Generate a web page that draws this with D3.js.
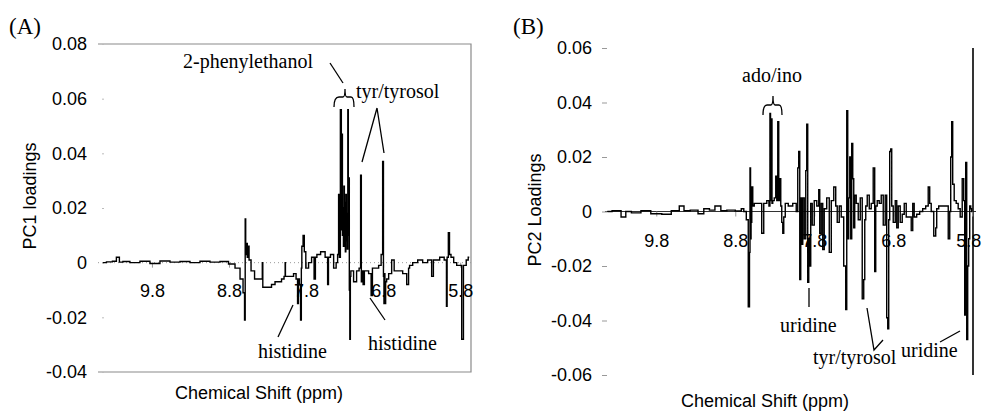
<!DOCTYPE html>
<html>
<head>
<meta charset="utf-8">
<script src="https://cdn.jsdelivr.net/npm/d3@7"></script>
<style>
  body { margin: 0; background: #fff; }
  svg { display: block; }
  .tick text { font-family: "Liberation Sans", Arial, sans-serif; font-size: 18px; fill: #000; }
  .title { font-family: "Liberation Sans", Arial, sans-serif; font-size: 18px; }
  .note { font-family: "Liberation Serif", "Times New Roman", serif; font-size: 20px; }
  .panel { font-family: "Liberation Serif", "Times New Roman", serif; font-size: 23px; }
</style>
</head>
<body>
<svg id="chart" width="982" height="417"></svg>
<script>
// tick labels
const shiftTicks = [9.8, 8.8, 7.8, 6.8, 5.8];
const pc1Ticks = [-0.04, -0.02, 0, 0.02, 0.04, 0.06, 0.08];
const pc2Ticks = [-0.06, -0.04, -0.02, 0, 0.02, 0.04, 0.06];

// PC1 loadings (panel A)
const shiftA = [10.436, 10.345, 10.281, 10.242, 10.203, 10.151, 10.021, 9.891, 9.761, 9.631, 9.501, 9.371, 9.242, 9.112, 8.982, 8.852, 8.761, 8.683, 8.631, 8.605,
  8.592, 8.588, 8.579, 8.566, 8.560, 8.553, 8.527, 8.501, 8.436, 8.371, 8.365, 8.358, 8.332, 8.268, 8.229, 8.177, 8.138, 8.099, 8.073, 8.070,
  8.066, 8.034, 7.982, 7.943, 7.917, 7.904, 7.895, 7.878, 7.865, 7.858, 7.852, 7.826, 7.820, 7.787, 7.748, 7.709, 7.683, 7.675, 7.644, 7.579,
  7.527, 7.514, 7.505, 7.462, 7.423, 7.397, 7.385, 7.371, 7.365, 7.345, 7.340, 7.332, 7.325, 7.319, 7.312, 7.306, 7.300, 7.294, 7.287, 7.281,
  7.274, 7.268, 7.262, 7.255, 7.249, 7.242, 7.236, 7.229, 7.222, 7.216, 7.203, 7.164, 7.125, 7.099, 7.086, 7.080, 7.073, 7.047, 7.040, 7.008,
  6.969, 6.943, 6.935, 6.878, 6.839, 6.813, 6.800, 6.792, 6.787, 6.780, 6.774, 6.761, 6.748, 6.709, 6.670, 6.644, 6.579, 6.514, 6.475, 6.465,
  6.449, 6.384, 6.319, 6.255, 6.190, 6.151, 6.145, 6.099, 6.034, 5.982, 5.975, 5.965, 5.943, 5.935, 5.904, 5.865, 5.826, 5.800, 5.761, 5.755,
  5.735, 5.709, 5.683];
const loadA = [0, 0.0003, 0.0005, 0.002, 0.0002, 0.0004, 0, 0.0005, -0.0003, 0.0006, 0.0002, 0.0004, 0, 0.0005, 0.0002, 0.0004, -0.0005, -0.002, -0.006, -0.011,
  -0.021, 0.016, 0.003, 0.007, 0.002, 0.006, 0.001, -0.003, -0.006, -0.006, 0.0, -0.009, -0.009, -0.009, -0.008, -0.007, -0.007, -0.006, -0.005, 0.000,
  -0.005, -0.005, -0.005, -0.004, -0.006, -0.015, -0.006, -0.008, -0.021, -0.002, 0.006, 0.010, 0.004, -0.002, 0.000, 0.002, -0.006, 0.002, 0.003, 0.004,
  0.002, -0.008, 0.002, 0.003, -0.002, 0.000, 0.003, 0.025, 0.002, 0.056, 0.012, 0.047, 0.010, 0.020, 0.006, 0.028, 0.008, 0.022, 0.004, 0.025,
  0.008, 0.018, 0.005, 0.056, 0.010, 0.031, -0.010, -0.028, -0.005, -0.003, -0.003, -0.007, -0.003, -0.002, 0.032, -0.007, -0.003, -0.008, -0.003, -0.003,
  -0.004, -0.012, -0.002, -0.002, -0.001, 0.003, 0.037, -0.005, -0.015, -0.004, -0.015, -0.007, -0.006, -0.004, 0.001, -0.003, -0.003, -0.004, -0.008, -0.002,
  -0.001, 0.000, 0.001, 0.000, 0.001, -0.005, 0.001, 0.001, 0.002, 0.001, -0.016, 0.002, 0.011, 0.003, 0.002, 0.000, -0.001, -0.001, -0.028, -0.001,
  -0.001, 0.001, 0.002];

// PC2 loadings (panel B)
const shiftB = [10.420, 10.300, 10.192, 10.180, 10.050, 9.939, 9.800, 9.661, 9.560, 9.458, 9.440, 9.300, 9.243, 9.154, 9.100, 9.015, 8.950, 8.863, 8.737, 8.711,
  8.673, 8.648, 8.623, 8.617, 8.610, 8.603, 8.597, 8.585, 8.572, 8.547, 8.484, 8.446, 8.433, 8.420, 8.382, 8.365, 8.357, 8.350, 8.344, 8.338,
  8.332, 8.319, 8.294, 8.281, 8.268, 8.256, 8.243, 8.230, 8.218, 8.205, 8.192, 8.180, 8.154, 8.104, 8.041, 8.015, 8.003, 7.990, 7.977, 7.965,
  7.952, 7.939, 7.914, 7.901, 7.889, 7.876, 7.863, 7.851, 7.838, 7.813, 7.787, 7.749, 7.737, 7.724, 7.699, 7.686, 7.661, 7.623, 7.597, 7.572,
  7.534, 7.522, 7.496, 7.471, 7.446, 7.408, 7.395, 7.382, 7.370, 7.357, 7.344, 7.332, 7.319, 7.306, 7.294, 7.281, 7.256, 7.230, 7.205, 7.180,
  7.167, 7.154, 7.142, 7.116, 7.091, 7.066, 7.041, 7.028, 7.015, 6.990, 6.965, 6.939, 6.914, 6.889, 6.876, 6.863, 6.851, 6.838, 6.825, 6.813,
  6.787, 6.762, 6.749, 6.724, 6.699, 6.673, 6.648, 6.623, 6.585, 6.559, 6.547, 6.522, 6.484, 6.446, 6.408, 6.370, 6.344, 6.332, 6.306, 6.268,
  6.256, 6.243, 6.205, 6.154, 6.116, 6.091, 6.078, 6.066, 6.053, 6.041, 6.015, 5.990, 5.965, 5.939, 5.914, 5.901, 5.889, 5.876, 5.863, 5.851,
  5.838, 5.825, 5.813, 5.800];
const loadB = [0, 0.0003, -0.002, 0, -0.0005, 0.0003, -0.0008, -0.001, 0.0003, 0.002, 0.0003, 0.0005, -0.0008, 0.001, 0.0005, 0.002, 0.0003, 0.0005, 0.0002, 0.001,
  0, -0.003, -0.035, -0.015, 0.016, -0.010, -0.004, 0.009, 0.002, 0.003, 0.003, -0.008, 0.003, 0.003, 0.004, 0.002, 0.036, 0.004, 0.020, 0.034,
  0.003, 0.004, 0.005, 0.013, 0.004, 0.033, 0.004, 0.012, 0.002, -0.004, -0.008, -0.002, 0.003, 0.002, 0.003, 0.000, 0.016, 0.022, -0.025, 0.005,
  -0.012, 0.005, -0.010, 0.015, 0.032, -0.026, -0.010, -0.020, 0.003, -0.005, 0.004, 0.002, 0.008, -0.008, 0.003, -0.014, 0.001, 0.005, -0.015, 0.004,
  0.009, 0.002, -0.004, 0.002, -0.002, -0.020, -0.036, 0.037, -0.010, 0.005, 0.020, -0.010, 0.025, 0.012, -0.006, 0.006, 0.003, -0.003, 0.005, -0.032,
  -0.025, -0.003, 0.002, 0.006, 0.001, 0.003, 0.016, -0.022, 0.002, 0.004, 0.003, 0.006, -0.005, 0.006, -0.039, -0.043, -0.003, 0.022, 0.023, 0.002,
  -0.004, 0.004, -0.006, 0.002, -0.004, -0.001, 0.003, -0.002, -0.002, -0.007, 0.003, -0.002, -0.001, 0.000, 0.001, 0.002, 0.009, 0.003, 0.000, -0.009,
  -0.006, 0.001, 0.002, 0.002, 0.002, -0.010, 0.000, 0.020, 0.033, 0.010, 0.004, 0.003, 0.001, -0.002, 0.012, 0.004, -0.038, 0.018, -0.047, -0.020,
  -0.010, 0.002, 0.001, 0.000];

const svg = d3.select("#chart");

// scales
const xA = d3.scaleLinear().domain([10.5, 5.66]).range([98, 471]);
const yA = d3.scaleLinear().domain([-0.04, 0.08]).range([372, 44]);
const xB = d3.scaleLinear().domain([10.5, 5.79]).range([601, 973]);
const yB = d3.scaleLinear().domain([-0.06, 0.06]).range([375, 48]);

const fmt = d => d === 0 ? "0" : d.toFixed(2);

// ---------- Panel A ----------
const gA = svg.append("g");

// frame (no left side)
gA.append("path")
    .attr("d", `M${xA.range()[0]},${yA.range()[1]}H${xA.range()[1]}V${yA.range()[0]}H${xA.range()[0]}`)
    .attr("fill", "none")
    .attr("stroke", "#8a8a8a")
    .attr("stroke-width", 1.2);

// dotted zero line
gA.append("line")
    .attr("x1", xA.range()[0]).attr("x2", xA.range()[1])
    .attr("y1", yA(0)).attr("y2", yA(0))
    .attr("stroke", "#999").attr("stroke-dasharray", "1,3");

const yAxisA = gA.append("g")
    .attr("transform", "translate(104,0)")
    .call(d3.axisLeft(yA).tickValues(pc1Ticks).tickFormat(fmt).tickSize(2).tickPadding(15));
yAxisA.select(".domain").remove();
yAxisA.selectAll(".tick line").attr("stroke", "#bbb");

const xAxisA = gA.append("g")
    .attr("transform", `translate(0,${yA(0)})`)
    .call(d3.axisBottom(xA).tickValues(shiftTicks).tickFormat(d3.format(".1f")).tickSize(5).tickPadding(17));
xAxisA.select(".domain").remove();
xAxisA.selectAll(".tick line").attr("stroke", "#999");

gA.append("path")
    .datum(shiftA.map((s, i) => [s, loadA[i]]))
    .attr("fill", "none")
    .attr("stroke", "#000")
    .attr("stroke-width", 1.4)
    .attr("d", d3.line().x(d => xA(d[0])).y(d => yA(d[1])).curve(d3.curveStep));

gA.append("text").attr("class", "title")
    .attr("transform", "translate(30,196) rotate(-90)")
    .attr("text-anchor", "middle").attr("dy", "0.35em")
    .text("PC1 loadings");
gA.append("text").attr("class", "title")
    .attr("x", 259).attr("y", 399).attr("text-anchor", "middle")
    .text("Chemical Shift (ppm)");
gA.append("text").attr("class", "panel").attr("x", 9).attr("y", 34).text("(A)");

// annotations A
const notesA = [
  {t: "2-phenylethanol", x: 183, y: 68},
  {t: "tyr/tyrosol", x: 356, y: 98},
  {t: "histidine", x: 258, y: 358},
  {t: "histidine", x: 368, y: 350}
];
gA.selectAll(".noteA").data(notesA).enter().append("text")
    .attr("class", "note").attr("x", d => d.x).attr("y", d => d.y).text(d => d.t);

const leaderPaths = [
  "M330,63L343,83",
  "M377,108L362,162M377,108L384,153",
  "M293,305L278,337",
  "M370,298L385,320",
  // curly bracket over 2-phenylethanol peaks
  "M334,107Q334,97 339,97H343Q345,97 345,89Q345,97 347,97H351Q354,97 354,107",
  // panel B
  "M763,115Q763,105 767,105H771Q773,105 773,96Q773,105 775,105H779Q782,105 782,115",
  "M809,288V307",
  "M867,308L874,350L883,340",
  "M940,342L960,331"
];
svg.append("g").selectAll("path").data(leaderPaths).enter().append("path")
    .attr("d", d => d).attr("fill", "none").attr("stroke", "#000").attr("stroke-width", 1.3);

// ---------- Panel B ----------
const gB = svg.append("g");

gB.append("line")
    .attr("x1", 605).attr("x2", 976)
    .attr("y1", yB(0)).attr("y2", yB(0))
    .attr("stroke", "#333").attr("stroke-width", 1);

gB.append("line")
    .attr("x1", 973).attr("x2", 973)
    .attr("y1", yB(0.06)).attr("y2", yB(-0.06))
    .attr("stroke", "#000").attr("stroke-width", 1.6);

const yAxisB = gB.append("g")
    .attr("transform", "translate(607,0)")
    .call(d3.axisLeft(yB).tickValues(pc2Ticks).tickFormat(fmt).tickSize(5).tickPadding(10));
yAxisB.select(".domain").remove();
yAxisB.selectAll(".tick line").attr("stroke", "#999");

const xAxisB = gB.append("g")
    .attr("transform", `translate(0,${yB(0)})`)
    .call(d3.axisBottom(xB).tickValues(shiftTicks).tickFormat(d3.format(".1f")).tickSize(5).tickPadding(18));
xAxisB.select(".domain").remove();
xAxisB.selectAll(".tick line").attr("stroke", "#999");
// last label sits against the right edge
xAxisB.selectAll(".tick text").filter(d => d === 5.8).attr("dx", -4);

gB.append("path")
    .datum(shiftB.map((s, i) => [s, loadB[i]]))
    .attr("fill", "none")
    .attr("stroke", "#000")
    .attr("stroke-width", 1.4)
    .attr("d", d3.line().x(d => xB(d[0])).y(d => yB(d[1])).curve(d3.curveStep));

gB.append("text").attr("class", "title")
    .attr("transform", "translate(535,210) rotate(-90)")
    .attr("text-anchor", "middle").attr("dy", "0.35em")
    .text("PC2 Loadings");
gB.append("text").attr("class", "title")
    .attr("x", 765).attr("y", 407).attr("text-anchor", "middle")
    .text("Chemical Shift (ppm)");
gB.append("text").attr("class", "panel").attr("x", 513).attr("y", 34).text("(B)");

const notesB = [
  {t: "ado/ino", x: 742, y: 82},
  {t: "uridine", x: 780, y: 332},
  {t: "tyr/tyrosol", x: 813, y: 364},
  {t: "uridine", x: 901, y: 357}
];
gB.selectAll(".noteB").data(notesB).enter().append("text")
    .attr("class", "note").attr("x", d => d.x).attr("y", d => d.y).text(d => d.t);
</script>
</body>
</html>
